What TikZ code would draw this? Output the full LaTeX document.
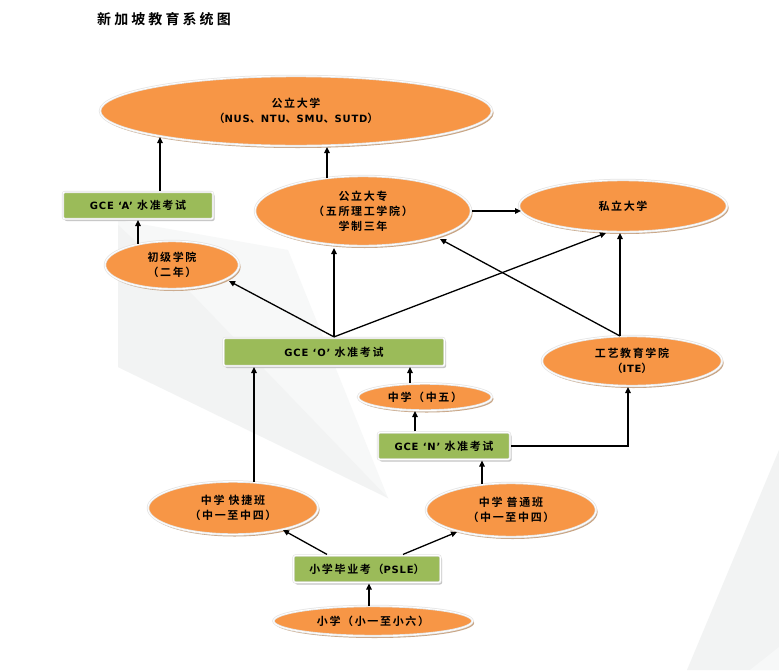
\documentclass[tikz,border=0pt]{standalone}
\usepackage{fontspec}
\usetikzlibrary{shapes.geometric,arrows.meta,calc,shadows}
\newfontfamily\cjkb{Noto Sans CJK SC Bold}[LetterSpace=15]
\newfontfamily\titlefont{Noto Sans CJK SC Bold}[LetterSpace=22]
\newfontfamily\latfont{DejaVu Sans Bold}[LetterSpace=8]
\newcommand{\lt}[1]{{\latfont\fontsize{10}{15}\selectfont #1}}
\definecolor{orng}{HTML}{F79646}
\definecolor{grn}{HTML}{9BBB59}
\definecolor{ringc}{HTML}{E4E4E4}
\definecolor{tanshadow}{HTML}{C9A584}
\definecolor{boxshadow}{HTML}{C4C4C4}
\definecolor{bgA}{HTML}{F7F8F8}
\definecolor{bgB}{HTML}{F2F3F3}
\tikzset{
  ell/.style={ellipse, fill=orng, draw=ringc, line width=2.4pt, inner sep=0pt, align=center,
    font=\cjkb\fontsize{11}{15}\selectfont,
    drop shadow={shadow xshift=1.6pt, shadow yshift=-2pt, fill=tanshadow, opacity=1},
    postaction={draw=white, line width=0.9pt}},
  box/.style={rectangle, rounded corners=2pt, fill=grn, draw=ringc, line width=2.2pt, inner sep=0pt, align=center,
    font=\cjkb\fontsize{11}{15}\selectfont,
    drop shadow={shadow xshift=1.6pt, shadow yshift=-2pt, fill=boxshadow, opacity=1},
    postaction={draw=white, line width=0.9pt}},
  arr/.style={line width=1.3pt, -{Triangle[length=6pt,width=5.5pt]}},
  titlestyle/.style={font=\titlefont\fontsize{14}{16}\selectfont, inner sep=0pt}
}
\begin{document}
\begin{tikzpicture}[x=1pt,y=-1pt]
\useasboundingbox (0,0) rectangle (779,670);
\fill[white] (0,0) rectangle (779,670);
% faint background shapes
\fill[bgA] (118,220) -- (288,250) -- (388,498) -- (118,367) -- cycle;
\fill[bgB] (118,225) -- (190,292) -- (388,498) -- (118,367) -- cycle;
\fill[bgB] (779,450) -- (687,670) -- (779,670) -- cycle;
\fill[bgA] (779,647) -- (750,670) -- (779,670) -- cycle;

\node[titlestyle] (title) at (164,19) {新加坡教育系统图};

\node[ell, minimum width=392, minimum height=70] (uni) at (296,111) {公立大学\\（\lt{NUS}、\lt{NTU}、\lt{SMU}、\lt{SUTD}）};
\node[box, minimum width=150, minimum height=27] (gceA) at (138,205.5) {\lt{GCE ‘A’} 水准考试};
\node[ell, minimum width=216, minimum height=70] (dazhuan) at (363,211) {公立大专\\（五所理工学院）\\学制三年};
\node[ell, minimum width=208, minimum height=52] (private) at (623,206) {私立大学};
\node[ell, minimum width=134, minimum height=48] (jc) at (172,265) {初级学院\\（二年）};
\node[box, minimum width=221, minimum height=28] (gceO) at (334,352) {\lt{GCE ‘O’} 水准考试};
\node[ell, minimum width=180, minimum height=50] (ite) at (632,361) {工艺教育学院\\（\lt{ITE}）};
\node[ell, minimum width=134, minimum height=27] (zhongwu) at (425,397) {中学（中五）};
\node[box, minimum width=132, minimum height=27] (gceN) at (444,446) {\lt{GCE ‘N’} 水准考试};
\node[ell, minimum width=170, minimum height=53] (express) at (233,508) {中学 快捷班\\（中一至中四）};
\node[ell, minimum width=170, minimum height=54] (normal) at (511,510) {中学 普通班\\（中一至中四）};
\node[box, minimum width=147, minimum height=27] (psle) at (367,569) {小学毕业考（\lt{PSLE}）};
\node[ell, minimum width=199, minimum height=30] (primary) at (373,621) {小学（小一至小六）};

\draw[arr] ([xshift=22pt]gceA.north) -- ($(uni.center)+(-136,26)$);
\draw[arr] ($(dazhuan.center)+(-36,-33)$) -- ($(uni.center)+(31,36)$);
\draw[arr] (dazhuan.east) -- ($(private.center)+(-102,5)$);
\draw[arr] ($(jc.center)+(-34,-21)$) -- (gceA.south);
\draw[arr] (gceO.north) -- ($(jc.center)+(57,16)$);
\draw[arr] (gceO.north) -- ($(dazhuan.center)+(-29,37)$);
\draw[arr] (gceO.north) -- ($(private.center)+(-17,27)$);
\draw[arr] ($(ite.center)+(-12,-25)$) -- ($(dazhuan.center)+(77,28)$);
\draw[arr] ($(ite.center)+(-12,-25)$) -- ($(private.center)+(-3,27)$);
\draw[arr] ($(zhongwu.center)+(-15,-14)$) -- ([xshift=76pt]gceO.south);
\draw[arr] ([xshift=-29pt]gceN.north) -- ($(zhongwu.center)+(-10,14)$);
\draw[arr] (gceN.east) -| ($(ite.center)+(-4,26)$);
\draw[arr] ($(express.center)+(21,-26)$) -- ([xshift=-80pt]gceO.south);
\draw[arr] ($(normal.center)+(-29,-26)$) -- ([xshift=38pt]gceN.south);
\draw[arr] ([xshift=-40pt]psle.north) -- ($(express.center)+(50,22)$);
\draw[arr] ([xshift=36pt]psle.north) -- ($(normal.center)+(-54,22)$);
\draw[arr] ($(primary.center)+(-4,-15)$) -- ([xshift=2pt]psle.south);
\end{tikzpicture}
\end{document}
